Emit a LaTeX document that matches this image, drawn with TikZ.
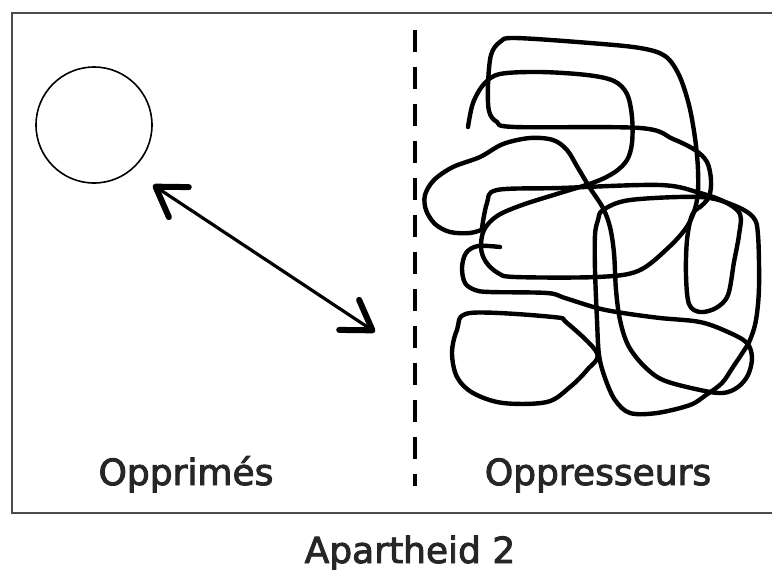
\documentclass[tikz,border=0pt]{standalone}
\usepackage{fontspec}
\setmainfont{DejaVu Sans}
\newfontfamily\lblfont{DejaVu Sans}[FakeBold=2.6]
\usetikzlibrary{arrows.meta}
\begin{document}
\begin{tikzpicture}[x=0.5pt,y=-0.5pt,
  frame/.style={draw=black!70, line width=1.3pt},
  scribble/.style={line width=2.2pt, line join=round, line cap=round},
  divider/.style={line width=2pt, dash pattern=on 11pt off 7.5pt},
  label/.style={anchor=base, font=\lblfont\fontsize{18}{22}\selectfont, text=black!85, inner sep=0pt},
  group/.style={circle, draw, line width=0.8pt, minimum size=58pt, inner sep=0pt},
  link/.style={line width=1.6pt, >={Straight Barb[length=14pt,width=18pt,line width=3pt,round]}, <->}
]
\useasboundingbox (0,0) rectangle (772,569);

% open frame (right side runs off the page)
\draw[frame] (772,13) -- (12,13) -- (12,513) -- (772,513);

% dashed separator
\coordinate (sepTop) at (415,30);
\coordinate (sepBot) at (415,486);
\draw[divider] (sepTop) -- (sepBot);

% single circle on the left
\node[group] (opp) at (94,125) {};

% double-headed arrow towards the separator
\coordinate (arrA) at (153,185);
\coordinate (arrB) at (375,332);
\draw[link] (arrA) -- (arrB);

% tangled scribble on the right
\draw[scribble] plot[smooth, tension=0.55] coordinates {
  (468,127) (473,103) (484,84) (500,74) (540,72) (587,75) (614,81) (627,94)
  (632,117) (632,143) (627,160) (615,172) (595,182) (560,193) (522,205)
  (497,216) (484,230) (481,248) (486,262) (498,273) (515,277) (597,277)
  (638,271) (668,248) (688,225) (697,200) (698,170) (695,138) (689,105)
  (679,75) (665,56) (640,48) (590,43) (515,38) (500,42) (491,55) (488,85)
  (489,111) (497,122) (515,127) (640,128) (673,139) (695,150) (707,162)
  (711,180) (709,197) (700,207)};

\draw[scribble] plot[smooth, tension=0.55] coordinates {
  (482,228) (487,203) (497,190) (560,188) (660,185) (700,193) (725,202)
  (740,214) (739,235) (734,262) (728,295) (716,308) (700,312) (689,304)
  (686,275) (687,240) (692,215) (700,207)};

\draw[scribble] plot[smooth, tension=0.55] coordinates {
  (484,229) (470,233) (450,232) (435,224) (426,210) (425,195) (434,180)
  (453,167) (480,157) (503,144) (530,138) (553,140) (567,150) (578,168)
  (590,188) (603,208) (610,227) (614,253) (616,290) (620,320) (628,345)
  (643,365) (663,380) (700,390) (723,393) (738,387) (748,375) (752,358)
  (747,343) (728,332) (700,322) (660,318) (623,313) (597,308) (565,298)
  (547,293) (490,292) (475,290) (465,283) (462,268) (466,253) (478,246)
  (500,247)};

\draw[scribble] plot[smooth cycle, tension=0.55] coordinates {
  (603,210) (630,200) (700,197) (733,205) (753,217) (758,235) (759,287)
  (756,320) (750,340) (743,352) (733,367) (722,383) (706,395) (690,405)
  (657,413) (630,413) (615,400) (605,378) (599,355) (597,320) (595,270)
  (595,235) (598,220)};

\draw[scribble] plot[smooth cycle, tension=0.55] coordinates {
  (470,313) (553,317) (567,323) (597,353) (587,370) (570,387) (547,402)
  (503,403) (473,393) (457,377) (452,353) (457,330)};

% labels
\node[label] (lblL) at (186,485) {Opprimés};
\node[label] (lblR) at (598,485) {Oppresseurs};
\node[label] (title) at (410,563) {Apartheid 2};
\end{tikzpicture}
\end{document}
